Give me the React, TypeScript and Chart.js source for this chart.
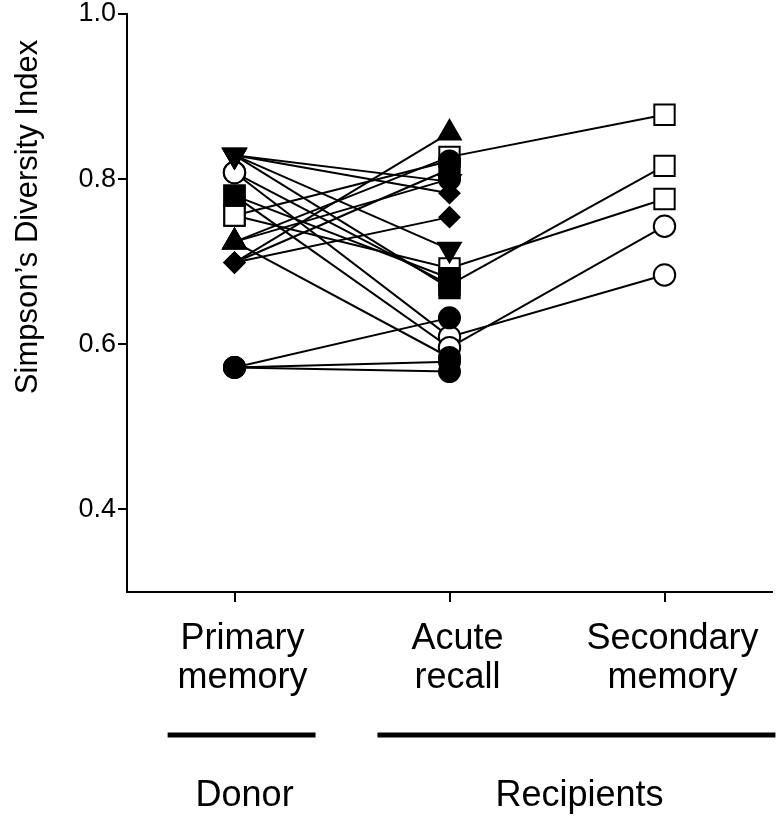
import React, { useEffect, useRef } from "react";
import { Chart, registerables } from "chart.js";

Chart.register(...registerables);

// ---- data ----
const stageLabels = [["Primary", "memory"], ["Acute", "recall"], ["Secondary", "memory"]];
const yTickValues = [0.4, 0.6, 0.8, 1.0];
const groupLabels = ["Donor", "Recipients"];

// one entry per recipient (line): donor value, acute recall value, secondary memory value
const primaryValues = [0.699, 0.724, 0.756, 0.699, 0.724, 0.829, 0.829, 0.699, 0.829, 0.756, 0.780, 0.808, 0.829, 0.572, 0.808, 0.780, 0.724, 0.572, 0.572];
const primaryShapes = ["dia", "utri", "osq", "dia", "utri", "dtri", "dtri", "dia", "dtri", "osq", "fsq", "ocirc", "dtri", "fcirc", "ocirc", "fsq", "utri", "fcirc", "fcirc"];
const acuteValues = [0.856, 0.827, 0.822, 0.812, 0.800, 0.797, 0.783, 0.754, 0.715, 0.692, 0.680, 0.672, 0.668, 0.632, 0.609, 0.596, 0.584, 0.579, 0.567];
const acuteShapes = ["utri", "osq", "fcirc", "fsq", "fcirc", "dtri", "dia", "dia", "dtri", "osq", "fsq", "osq", "fsq", "fcirc", "ocirc", "ocirc", "fcirc", "fcirc", "fcirc"];
const secondaryValues = [null, 0.878, null, null, null, null, null, null, null, 0.776, null, 0.816, null, null, 0.684, 0.743, null, null, null];
const secondaryShapes = [null, "osq", null, null, null, null, null, null, null, "osq", null, "osq", null, null, "ocirc", "ocirc", null, null, null];

// ---- styles ----
const SHAPE_STYLE: Record<string, any> = {
  osq: { pointStyle: "rect", rotation: 0, radius: 14.4, fill: "#ffffff", order: 50 },
  ocirc: { pointStyle: "circle", rotation: 0, radius: 10.7, fill: "#ffffff", order: 49 },
  fsq: { pointStyle: "rect", rotation: 0, radius: 14.4, fill: "#000000", order: 6 },
  fcirc: { pointStyle: "circle", rotation: 0, radius: 10.5, fill: "#000000", order: 5 },
  dia: { pointStyle: "rectRot", rotation: 0, radius: 10, fill: "#000000", order: 4 },
  utri: { pointStyle: "triangle", rotation: 0, radius: 13, fill: "#000000", order: 3 },
  dtri: { pointStyle: "triangle", rotation: 180, radius: 13, fill: "#000000", order: 2 },
};
const FONT = '"Liberation Sans", Arial, Helvetica, sans-serif';

const extrasPlugin = {
  id: "extras",
  afterDraw(chart: any) {
    const ctx = chart.ctx;
    const xs = chart.scales.x;
    ctx.save();
    ctx.fillStyle = "#000";
    ctx.strokeStyle = "#000";
    // y-axis title
    ctx.save();
    ctx.font = `31px ${FONT}`;
    ctx.translate(28, 217);
    ctx.rotate(-Math.PI / 2);
    ctx.textAlign = "center";
    ctx.textBaseline = "middle";
    ctx.fillText("Simpson\u2019s Diversity Index", 0, 0);
    ctx.restore();
    // group bars and labels
    const spans = [
      [-0.311, 0.377],
      [0.665, 2.516],
    ];
    const labelAt = [0.047, 1.605];
    ctx.lineWidth = 5;
    ctx.font = `36px ${FONT}`;
    ctx.textAlign = "center";
    ctx.textBaseline = "middle";
    spans.forEach((s, i) => {
      const x1 = xs.getPixelForValue(s[0]);
      const x2 = xs.getPixelForValue(s[1]);
      ctx.beginPath();
      ctx.moveTo(x1, 735);
      ctx.lineTo(x2, 735);
      ctx.stroke();
      ctx.fillText(groupLabels[i], xs.getPixelForValue(labelAt[i]), 796);
    });
    ctx.restore();
  },
};

export default function App() {
  const ref = useRef<HTMLCanvasElement | null>(null);

  useEffect(() => {
    if (!ref.current) return;
    const lineSets = primaryValues.map((p, i) => {
      const pts: any[] = [
        { x: 0, y: p },
        { x: 1, y: acuteValues[i] },
      ];
      if (secondaryValues[i] != null) pts.push({ x: 2, y: secondaryValues[i] });
      return {
        data: pts,
        showLine: true,
        borderColor: "#000",
        borderWidth: 2,
        pointRadius: 0,
        order: 100,
      };
    });
    const markerSets = Object.keys(SHAPE_STYLE).map((key) => {
      const st = SHAPE_STYLE[key];
      const pts: any[] = [];
      primaryValues.forEach((p, i) => {
        if (primaryShapes[i] === key) pts.push({ x: 0, y: p });
        if (acuteShapes[i] === key) pts.push({ x: 1, y: acuteValues[i] });
        if (secondaryShapes[i] === key && secondaryValues[i] != null) pts.push({ x: 2, y: secondaryValues[i] });
      });
      return {
        data: pts,
        showLine: false,
        pointStyle: st.pointStyle,
        pointRotation: st.rotation,
        pointRadius: st.radius,
        pointBackgroundColor: st.fill,
        pointBorderColor: "#000",
        pointBorderWidth: 2,
        order: st.order,
      };
    });

    const chart = new Chart(ref.current, {
      type: "scatter",
      data: { datasets: [...lineSets, ...markerSets] as any },
      options: {
        animation: false,
        responsive: false,
        maintainAspectRatio: false,
        events: [],
        layout: { autoPadding: false, padding: { top: 14, right: 8, left: 0, bottom: 0 } },
        plugins: { legend: { display: false }, tooltip: { enabled: false } },
        scales: {
          x: {
            type: "linear",
            min: -0.5,
            max: 2.5,
            afterBuildTicks: (s: any) => {
              s.ticks = stageLabels.map((_, i) => ({ value: i }));
            },
            afterFit: (s: any) => {
              s.height = 226;
              s.paddingLeft = 0;
              s.paddingRight = 0;
            },
            ticks: {
              color: "#000",
              font: { family: FONT, size: 36, lineHeight: 1.1 },
              padding: 17,
              labelOffset: 8,
              maxRotation: 0,
              autoSkip: false,
              callback: (v: any) => stageLabels[Math.round(Number(v))] as any,
            },
            grid: { drawOnChartArea: false, drawTicks: true, tickLength: 10, color: "#000", lineWidth: 2 },
            border: { display: true, color: "#000", width: 2 },
          },
          y: {
            type: "linear",
            min: 0.3,
            max: 1.0,
            afterBuildTicks: (s: any) => {
              s.ticks = yTickValues.map((v) => ({ value: v }));
            },
            afterFit: (s: any) => {
              s.width = 127;
              s.paddingTop = 0;
              s.paddingBottom = 0;
            },
            ticks: {
              color: "#000",
              font: { family: FONT, size: 27, lineHeight: 1 },
              padding: 2,
              callback: (v: any) => Number(v).toFixed(1),
            },
            grid: { drawOnChartArea: false, drawTicks: true, tickLength: 9, color: "#000", lineWidth: 2 },
            border: { display: true, color: "#000", width: 2 },
          },
        },
      },
      plugins: [extrasPlugin],
    });
    return () => chart.destroy();
  }, []);

  return (
    <div style={{ position: "fixed", left: 0, top: 0, width: 780, height: 818, background: "#fff" }}>
      <canvas ref={ref} width={780} height={818} style={{ width: 780, height: 818 }} />
    </div>
  );
}
